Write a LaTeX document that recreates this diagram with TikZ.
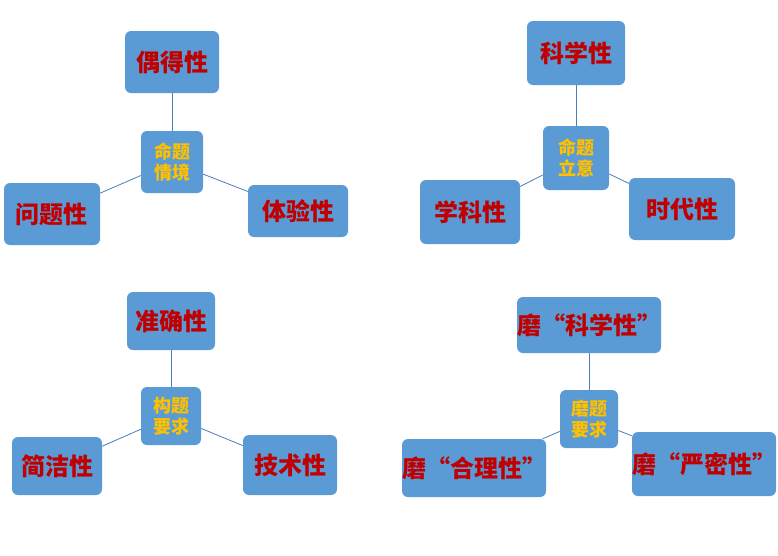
\documentclass[tikz,border=0pt]{standalone}
\usepackage{fontspec}
\newfontfamily\cjk{Noto Sans CJK SC}
\tikzset{
  outerbox/.style={draw=none,fill=boxblue,rounded corners=6pt,inner sep=0pt,
    font=\cjk\bfseries\fontsize{24}{28}\selectfont,text=textred},
  innerbox/.style={draw=none,fill=boxblue,rounded corners=6pt,inner sep=0pt,
    font=\cjk\bfseries\fontsize{18}{21}\selectfont,text=textgold,align=center},
  link/.style={draw=linkblue,line width=0.8pt}
}
\definecolor{boxblue}{HTML}{5B9BD5}
\definecolor{textred}{HTML}{C00000}
\definecolor{textgold}{HTML}{FFC000}
\definecolor{linkblue}{HTML}{4A7EBB}
\begin{document}
\begin{tikzpicture}[x=1pt,y=-1pt]
  \useasboundingbox (0,0) rectangle (778,555);
  % group 1
  \node[outerbox,minimum width=94,minimum height=62] (ode) at (172,62) {偶得性};
  \node[innerbox,minimum width=62,minimum height=62] (mtqj) at (172,162) {命题\\情境};
  \node[outerbox,minimum width=96,minimum height=62] (wtx) at (52,214) {问题性};
  \node[outerbox,minimum width=100,minimum height=52] (tyx) at (298,211) {体验性};
  \draw[link] (mtqj) -- (ode);
  \draw[link] (mtqj) -- (wtx);
  \draw[link] (mtqj) -- (tyx);
  % group 2
  \node[outerbox,minimum width=98,minimum height=64] (kxx) at (576,53) {科学性};
  \node[innerbox,minimum width=66,minimum height=64] (mtly) at (576,158) {命题\\立意};
  \node[outerbox,minimum width=100,minimum height=64] (xkx) at (470,212) {学科性};
  \node[outerbox,minimum width=106,minimum height=62] (sdx) at (682,209) {时代性};
  \draw[link] (mtly) -- (kxx);
  \draw[link] (mtly) -- (xkx);
  \draw[link] (mtly) -- (sdx);
  % group 3
  \node[outerbox,minimum width=88,minimum height=58] (zqx) at (171,321) {准确性};
  \node[innerbox,minimum width=60,minimum height=58] (gtyq) at (171,416) {构题\\要求};
  \node[outerbox,minimum width=90,minimum height=58] (jjx) at (57,466) {简洁性};
  \node[outerbox,minimum width=94,minimum height=60] (jsx) at (290,465) {技术性};
  \draw[link] (gtyq) -- (zqx);
  \draw[link] (gtyq) -- (jjx);
  \draw[link] (gtyq) -- (jsx);
  % group 4
  \node[outerbox,minimum width=142,minimum height=56] (mkx) at (589,325) {磨“科学性”};
  \node[innerbox,minimum width=58,minimum height=58] (mtyq) at (589,419) {磨题\\要求};
  \node[outerbox,minimum width=134,minimum height=58] (mhl) at (474,468) {磨“合理性”};
  \node[outerbox,minimum width=138,minimum height=64] (mym) at (704,464) {磨“严密性”};
  \draw[link] (mtyq) -- (mkx);
  \draw[link] (mtyq) -- (mhl);
  \draw[link] (mtyq) -- (mym);
\end{tikzpicture}
\end{document}
